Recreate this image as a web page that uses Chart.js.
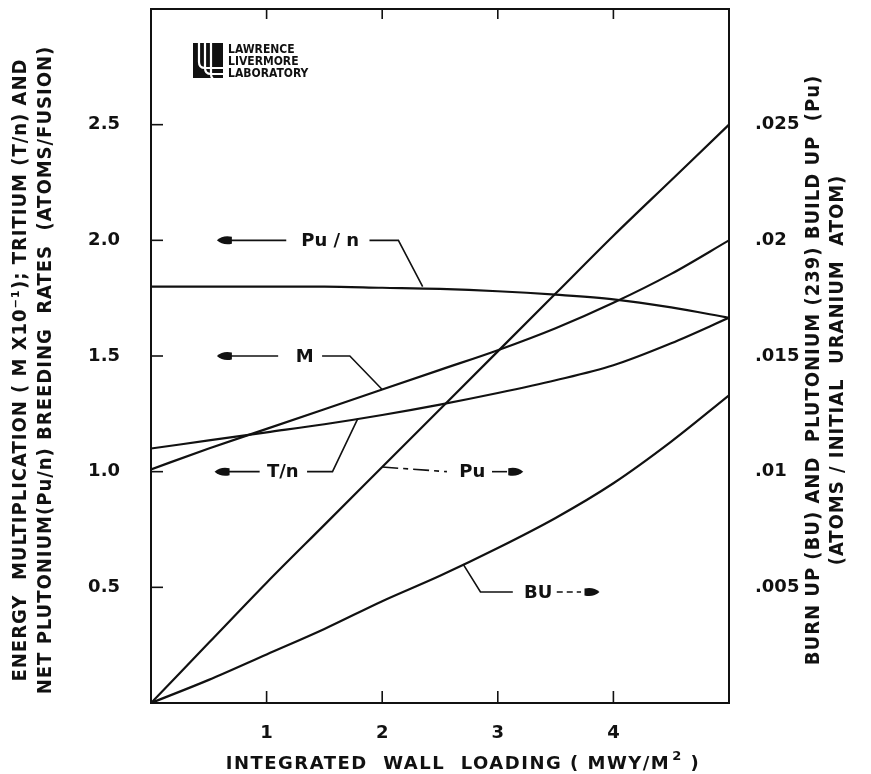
<!DOCTYPE html>
<html lang="en">
<head>
<meta charset="UTF-8">
<title>Breeding rates vs integrated wall loading</title>
<script src="https://cdn.jsdelivr.net/npm/chart.js"></script>
<style>
  html, body { margin: 0; padding: 0; background: #fff; }
  #wrap { width: 871px; height: 774px; }
</style>
</head>
<body>
<div id="wrap"><canvas id="chart" width="871" height="774"></canvas></div>
<script>
// integrated wall loading (MWY/m^2)
const wallLoading = [0, 0.5, 1, 1.5, 2, 2.5, 3, 3.5, 4, 4.5, 5];

// left axis (atoms/fusion, M x 10^-1)
const puPerN      = [1.80, 1.80, 1.80, 1.80, 1.795, 1.79, 1.78, 1.765, 1.745, 1.71, 1.665];
const energyMult  = [1.01, 1.10, 1.185, 1.27, 1.355, 1.44, 1.525, 1.62, 1.73, 1.855, 2.00];
const tritiumPerN = [1.10, 1.135, 1.17, 1.205, 1.245, 1.29, 1.34, 1.395, 1.46, 1.555, 1.665];

// right axis (atoms / initial uranium atom)
const puBuildup = [0, 0.0026, 0.0052, 0.0077, 0.0102, 0.0127, 0.0152, 0.0177, 0.0202, 0.0226, 0.025];
const burnUp    = [0, 0.0010, 0.0021, 0.0032, 0.0044, 0.0055, 0.0067, 0.0080, 0.0095, 0.0113, 0.0133];

const xTicks     = [1, 2, 3, 4];
const leftTicks  = [0.5, 1.0, 1.5, 2.0, 2.5];
const rightTicks = [0.005, 0.01, 0.015, 0.02, 0.025];

const INK = '#111';
const FONT = '"DejaVu Sans", "Liberation Sans", sans-serif';
const COND = '"DejaVu Sans Condensed", "Liberation Sans Narrow", sans-serif';

// curve labels, placed in data units (y in left-axis units)
const callouts = [
  { text: 'Pu / n', y: 2.0, arrowTip: 0.57, lineTo: 1.17, textX: 1.55, after: [1.89, 2.14], touch: [2.35, 1.80] },
  { text: 'M',      y: 1.5, arrowTip: 0.57, lineTo: 1.10, textX: 1.33, after: [1.48, 1.72], touch: [2.0, 1.355] },
  { text: 'T/n',    y: 1.0, arrowTip: 0.55, lineTo: 0.94, textX: 1.14, after: [1.35, 1.57], touch: [1.79, 1.23] }
];
const rightCallouts = [
  { text: 'Pu', y: 1.0,  touch: [2.0, 1.02], lineTo: 2.56, textX: 2.78, after: [2.95, 3.08], arrowTip: 3.22, dash: [16, 5, 5, 5] },
  { text: 'BU', y: 0.48, touch: [2.70, 0.60], bend: 2.85, lineTo: 3.13, textX: 3.35, after: [3.51, 3.72], arrowTip: 3.88, dash: [6, 4] }
];

function pts(ys) {
  return wallLoading.map((x, i) => ({ x: x, y: ys[i] }));
}

function fmtRight(v) {
  return parseFloat(v.toFixed(3)).toString().replace(/^0/, '');
}

function arrowHead(ctx, tipX, y, dir) {
  // dir = -1 points left, +1 points right
  const back = tipX - dir * 15;
  ctx.beginPath();
  ctx.moveTo(tipX, y);
  ctx.quadraticCurveTo(tipX - dir * 6, y - 5.5, back, y - 3.5);
  ctx.lineTo(back, y + 3.5);
  ctx.quadraticCurveTo(tipX - dir * 6, y + 5.5, tipX, y);
  ctx.closePath();
  ctx.fill();
}

function line(ctx, x1, y1, x2, y2) {
  ctx.beginPath();
  ctx.moveTo(x1, y1);
  ctx.lineTo(x2, y2);
  ctx.stroke();
}

const decorations = {
  id: 'decorations',
  afterDraw(chart) {
    const ctx = chart.ctx;
    const a = chart.chartArea;
    const xs = chart.scales.x, ys = chart.scales.y;
    const px = v => xs.getPixelForValue(v);
    const py = v => ys.getPixelForValue(v);

    ctx.save();
    ctx.strokeStyle = INK;
    ctx.fillStyle = INK;

    // frame
    ctx.lineWidth = 2;
    ctx.strokeRect(a.left, a.top, a.right - a.left, a.bottom - a.top);

    // inward tick marks
    ctx.lineWidth = 1.6;
    xTicks.forEach(v => {
      line(ctx, px(v), a.bottom, px(v), a.bottom - 12);
      line(ctx, px(v), a.top, px(v), a.top + 10);
    });
    leftTicks.forEach(v => line(ctx, a.left, py(v), a.left + 12, py(v)));

    // curve labels
    ctx.font = 'bold 18px ' + FONT;
    ctx.textAlign = 'center';
    ctx.textBaseline = 'middle';
    ctx.lineWidth = 1.6;
    callouts.forEach(c => {
      const y = py(c.y);
      arrowHead(ctx, px(c.arrowTip), y, -1);
      line(ctx, px(c.arrowTip) + 12, y, px(c.lineTo), y);
      ctx.fillText(c.text, px(c.textX), y + 1);
      ctx.beginPath();
      ctx.moveTo(px(c.after[0]), y);
      ctx.lineTo(px(c.after[1]), y);
      ctx.lineTo(px(c.touch[0]), py(c.touch[1]));
      ctx.stroke();
    });
    rightCallouts.forEach(c => {
      const y = py(c.y);
      ctx.beginPath();
      ctx.moveTo(px(c.touch[0]), py(c.touch[1]));
      if (c.bend) ctx.lineTo(px(c.bend), y);
      ctx.lineTo(px(c.lineTo), y);
      ctx.setLineDash(c.bend ? [] : c.dash);
      ctx.stroke();
      ctx.fillText(c.text, px(c.textX), y + 1);
      ctx.setLineDash(c.dash);
      line(ctx, px(c.after[0]), y, px(c.after[1]), y);
      ctx.setLineDash([]);
      arrowHead(ctx, px(c.arrowTip), y, 1);
    });

    // laboratory mark
    const lx = a.left + 42, ly = a.top + 34;
    ctx.fillRect(lx, ly, 30, 35);
    ctx.strokeStyle = '#fff';
    ctx.lineWidth = 2.2;
    [6, 12, 18].forEach(o => {
      const bottom = ly + 35 - (24 - o) + 2;
      ctx.beginPath();
      ctx.moveTo(lx + o, ly);
      ctx.lineTo(lx + o, bottom);
      ctx.quadraticCurveTo(lx + o, bottom + 6, lx + o + 6, bottom + 6);
      ctx.lineTo(lx + 30, bottom + 6);
      ctx.stroke();
    });
    ctx.fillStyle = INK;
    ctx.font = 'bold 12px ' + COND;
    ctx.textAlign = 'left';
    ctx.textBaseline = 'alphabetic';
    ctx.fillText('LAWRENCE', lx + 35, ly + 10);
    ctx.fillText('LIVERMORE', lx + 35, ly + 22);
    ctx.fillText('LABORATORY', lx + 35, ly + 34);

    // bottom axis title
    ctx.font = 'bold 18px ' + FONT;
    ctx.letterSpacing = '1.5px';
    const t1 = 'INTEGRATED  WALL  LOADING ( MWY/M';
    const w1 = ctx.measureText(t1).width;
    ctx.font = 'bold 13px ' + FONT;
    const w2 = ctx.measureText('2').width;
    ctx.font = 'bold 18px ' + FONT;
    const w3 = ctx.measureText(' )').width;
    const tx = (a.left + a.right) / 2 + 22 - (w1 + w2 + w3) / 2;
    const ty = 769;
    ctx.fillText(t1, tx, ty);
    ctx.font = 'bold 13px ' + FONT;
    ctx.fillText('2', tx + w1 + 2, ty - 9);
    ctx.font = 'bold 18px ' + FONT;
    ctx.fillText(' )', tx + w1 + w2 + 2, ty);

    // side titles, reading bottom to top
    ctx.textAlign = 'center';
    ctx.textBaseline = 'middle';
    ctx.font = 'bold 20px ' + COND;
    ctx.letterSpacing = '1px';
    const cy = (a.top + a.bottom) / 2 + 14;
    const side = (x, text) => {
      ctx.save();
      ctx.translate(x, cy);
      ctx.rotate(-Math.PI / 2);
      ctx.fillText(text, 0, 0);
      ctx.restore();
    };
    side(21, 'ENERGY  MULTIPLICATION ( M X10\u207B\u00B9); TRITIUM (T/n) AND');
    side(46, 'NET PLUTONIUM(Pu/n) BREEDING  RATES  (ATOMS/FUSION)');
    side(814, 'BURN UP (BU) AND  PLUTONIUM (239) BUILD UP  (Pu)');
    side(838, '(ATOMS / INITIAL  URANIUM  ATOM)');
    ctx.letterSpacing = '0px';
    ctx.restore();
  }
};

function series(data, axis) {
  return {
    data: pts(data),
    yAxisID: axis,
    borderColor: INK,
    borderWidth: 2.2,
    pointRadius: 0,
    cubicInterpolationMode: 'monotone',
    fill: false
  };
}

const tickFont = { family: FONT, size: 18, weight: 'bold' };

function noPad(s) {
  s.paddingTop = 0;
  s.paddingBottom = 0;
  s.paddingLeft = 0;
  s.paddingRight = 0;
}

new Chart(document.getElementById('chart'), {
  type: 'line',
  data: {
    datasets: [
      series(puPerN, 'y'),
      series(energyMult, 'y'),
      series(tritiumPerN, 'y'),
      series(puBuildup, 'y2'),
      series(burnUp, 'y2')
    ]
  },
  options: {
    responsive: false,
    animation: false,
    devicePixelRatio: 1,
    layout: { padding: { top: 9, left: 0, right: 0, bottom: 0 } },
    plugins: { legend: { display: false }, tooltip: { enabled: false } },
    scales: {
      x: {
        type: 'linear', min: 0, max: 5,
        afterBuildTicks: s => { s.ticks = xTicks.map(v => ({ value: v })); },
        afterFit: s => { s.height = 71; noPad(s); },
        grid: { display: false }, border: { display: false },
        ticks: { font: tickFont, color: INK, padding: 12, maxRotation: 0 }
      },
      y: {
        position: 'left', min: 0, max: 3,
        afterBuildTicks: s => { s.ticks = leftTicks.map(v => ({ value: v })); },
        afterFit: s => { s.width = 151; noPad(s); },
        grid: { display: false }, border: { display: false },
        ticks: { font: tickFont, color: INK, padding: 23, callback: v => v.toFixed(1) }
      },
      y2: {
        position: 'right', min: 0, max: 0.03,
        afterBuildTicks: s => { s.ticks = rightTicks.map(v => ({ value: v })); },
        afterFit: s => { s.width = 142; noPad(s); },
        grid: { display: false }, border: { display: false },
        ticks: { font: tickFont, color: INK, padding: 18, callback: v => fmtRight(v) }
      }
    }
  },
  plugins: [decorations]
});
</script>
</body>
</html>
